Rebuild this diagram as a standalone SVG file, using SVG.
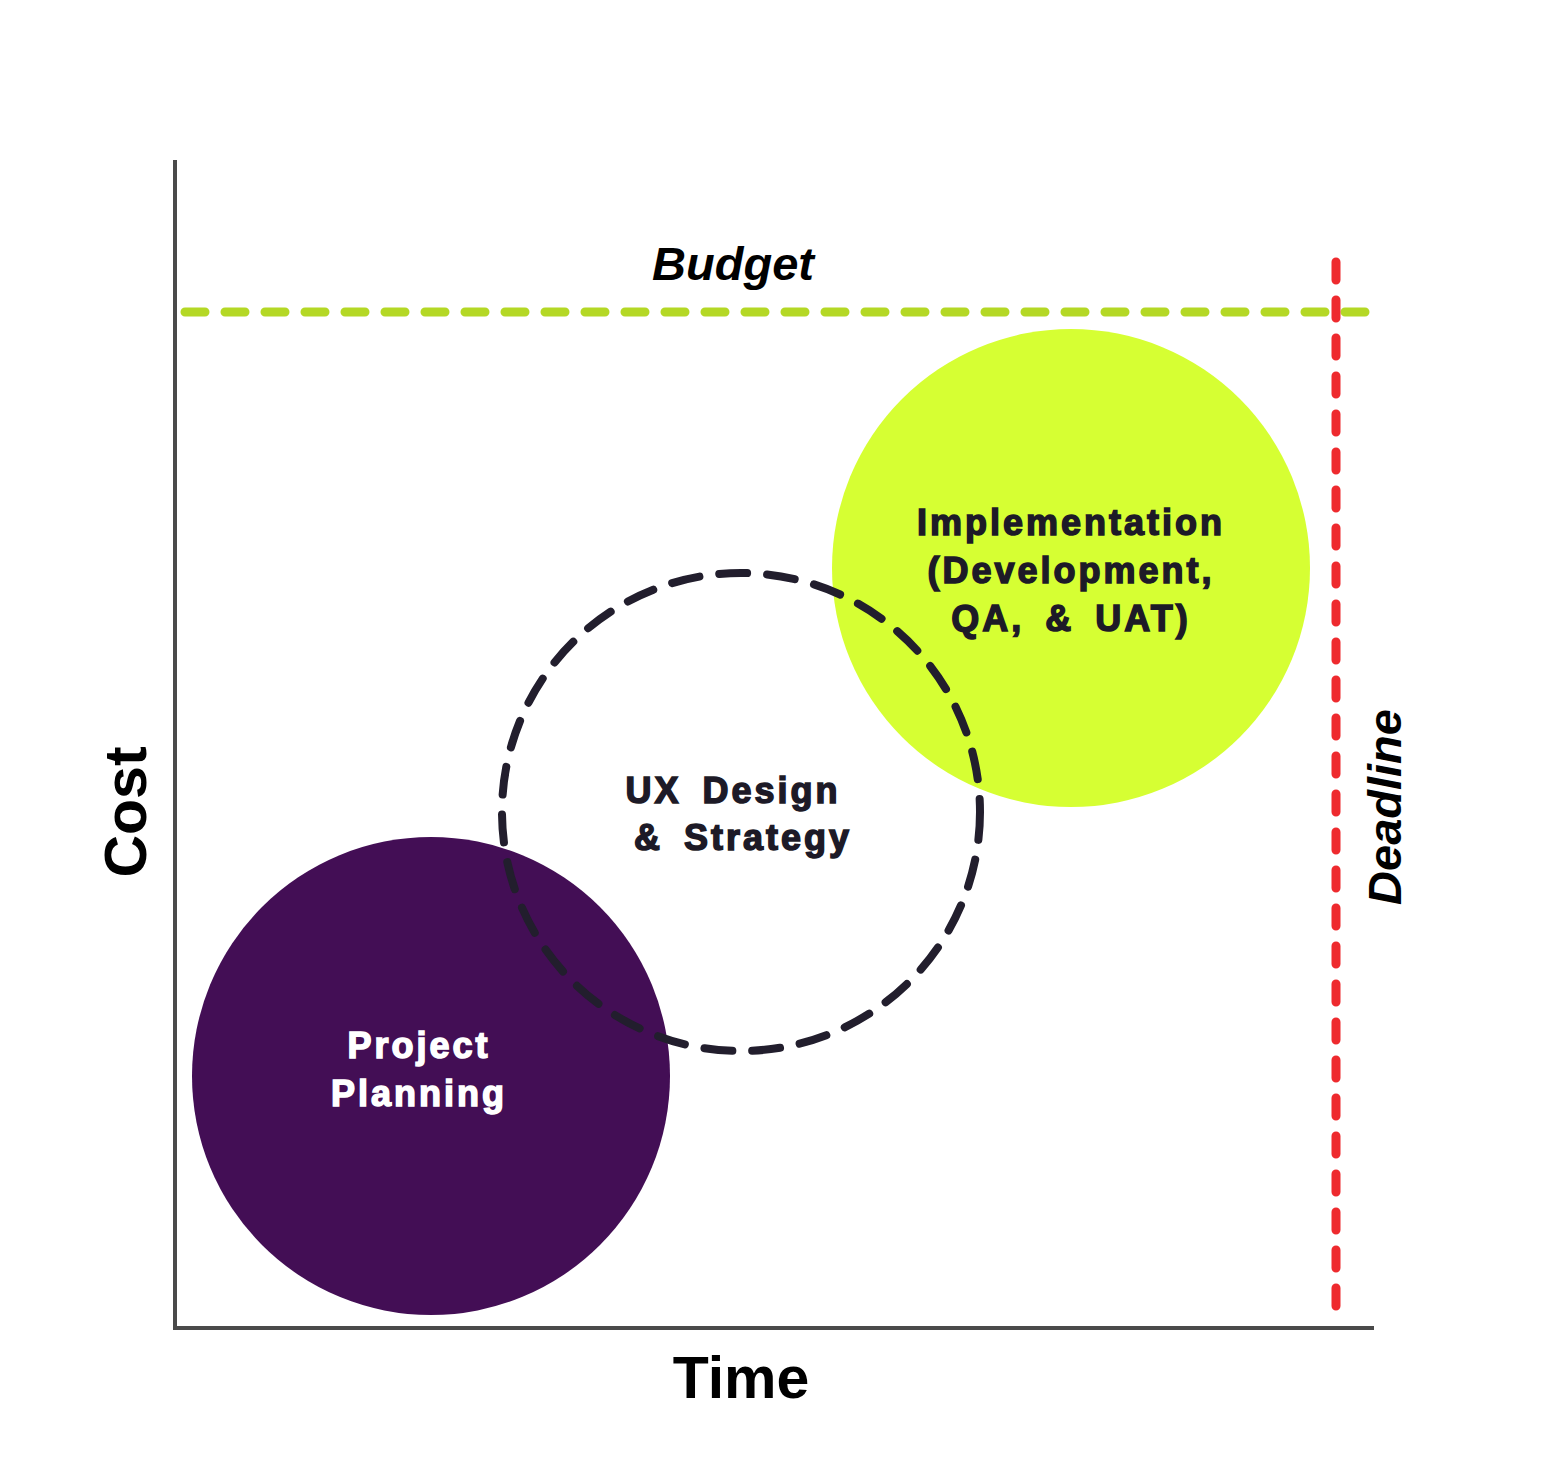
<svg xmlns="http://www.w3.org/2000/svg" width="1550" height="1474" viewBox="0 0 1550 1474">
<style>
.lbl{font-family:"Liberation Sans",Arial,sans-serif;font-weight:bold;font-size:36px;letter-spacing:3px;word-spacing:8px;text-anchor:middle;stroke-width:1.5px}
.dark{fill:#1d1a27;stroke:#1d1a27}
.light{fill:#ffffff;stroke:#ffffff}
.axisTitle{font-family:"Liberation Sans",Arial,sans-serif;font-weight:bold;font-size:59px;fill:#000;text-anchor:middle}
.ital{font-family:"Liberation Sans",Arial,sans-serif;font-weight:bold;font-style:italic;font-size:47px;fill:#000;text-anchor:middle}
</style>
<rect width="1550" height="1474" fill="#ffffff"/>
<g id="planning">
<circle cx="431" cy="1076" r="239" fill="#430e55"/>
<text class="lbl light" x="419" y="1058">Project</text>
<text class="lbl light" x="419" y="1106">Planning</text>
</g>
<g id="implementation">
<circle cx="1071" cy="568" r="239" fill="#d6ff33"/>
<text class="lbl dark" x="1071" y="535">Implementation</text>
<text class="lbl dark" x="1071" y="583">(Development,</text>
<text class="lbl dark" x="1071" y="631">QA, &amp; UAT)</text>
</g>
<g id="ux">
<circle cx="741" cy="812" r="239" fill="none" stroke="#221e2d" stroke-width="8" stroke-dasharray="28 20" stroke-linecap="round"/>
<text class="lbl dark" x="733" y="803">UX Design</text>
<text class="lbl dark" x="743" y="850">&amp; Strategy</text>
</g>
<g id="connectors">
<line x1="175" y1="160" x2="175" y2="1330" stroke="#4a4a4a" stroke-width="4"/>
<line x1="173" y1="1328" x2="1374" y2="1328" stroke="#4a4a4a" stroke-width="4"/>
<line x1="185" y1="312" x2="1368" y2="312" stroke="#b4d825" stroke-width="9" stroke-linecap="round" stroke-dasharray="20 20"/>
<line x1="1336" y1="262" x2="1336" y2="1322" stroke="#ee2a2e" stroke-width="9" stroke-linecap="round" stroke-dasharray="18 20"/>
</g>
<g id="labels">
<text class="ital" x="733" y="280">Budget</text>
<text class="ital" transform="translate(1401 807) rotate(-90)">Deadline</text>
<text class="axisTitle" transform="translate(146 812) rotate(-90)">Cost</text>
<text class="axisTitle" x="741" y="1398">Time</text>
</g>
</svg>
